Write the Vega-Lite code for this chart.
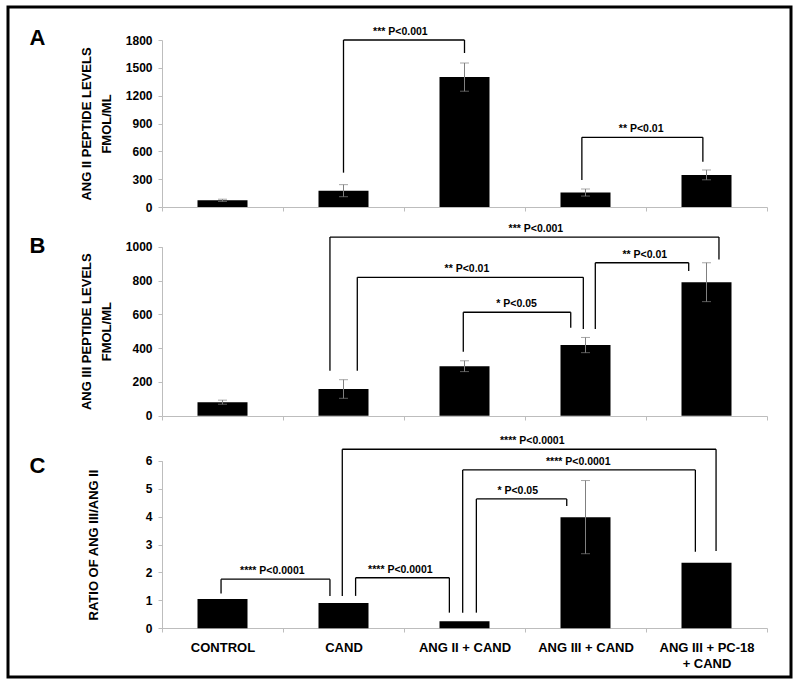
{
  "$schema": "https://vega.github.io/schema/vega-lite/v6.json",
  "width": 783,
  "height": 670,
  "autosize": "none",
  "padding": {"left": 8, "top": 7, "right": 9, "bottom": 11},
  "background": "white",
  "config": {
    "view": {"stroke": "#000000", "strokeWidth": 3},
    "font": "Liberation Sans",
    "axis": {"grid": false, "domainColor": "#bdbdbd", "tickColor": "#bdbdbd", "tickSize": 4, "labelColor": "#000000", "labelFont": "Liberation Sans", "labelFontWeight": "bold", "titleColor": "#000000", "titleFont": "Liberation Sans", "titleFontWeight": "bold"}
  },
  "datasets": {
    "bars": [
      {"panel": "A", "group": "CONTROL", "value": 72, "err": 12},
      {"panel": "A", "group": "CAND", "value": 176, "err": 65},
      {"panel": "A", "group": "ANG II + CAND", "value": 1400, "err": 152},
      {"panel": "A", "group": "ANG III + CAND", "value": 156, "err": 38},
      {"panel": "A", "group": "ANG III + PC-18 + CAND", "value": 346, "err": 53},
      {"panel": "B", "group": "CONTROL", "value": 80, "err": 12},
      {"panel": "B", "group": "CAND", "value": 158, "err": 55},
      {"panel": "B", "group": "ANG II + CAND", "value": 293, "err": 32},
      {"panel": "B", "group": "ANG III + CAND", "value": 418, "err": 45},
      {"panel": "B", "group": "ANG III + PC-18 + CAND", "value": 790, "err": 115},
      {"panel": "C", "group": "CONTROL", "value": 1.05, "err": null},
      {"panel": "C", "group": "CAND", "value": 0.91, "err": null},
      {"panel": "C", "group": "ANG II + CAND", "value": 0.25, "err": null},
      {"panel": "C", "group": "ANG III + CAND", "value": 3.98, "err": 1.31},
      {"panel": "C", "group": "ANG III + PC-18 + CAND", "value": 2.35, "err": null}
    ],
    "brackets": [
      {"panel": "A", "x1": 1.5, "x2": 2.5, "top": 1800, "b1": 370, "b2": 1660, "tx": 1.97, "label": "*** P<0.001"},
      {"panel": "A", "x1": 3.47, "x2": 4.47, "top": 751, "b1": 291, "b2": 488, "tx": 3.96, "label": "** P<0.01"},
      {"panel": "B", "x1": 1.388, "x2": 4.603, "top": 1057, "b1": 266, "b2": 925, "tx": 3.09, "label": "*** P<0.001"},
      {"panel": "B", "x1": 1.614, "x2": 3.482, "top": 819, "b1": 266, "b2": 513, "tx": 2.52, "label": "** P<0.01"},
      {"panel": "B", "x1": 2.49, "x2": 3.378, "top": 612, "b1": 379, "b2": 521, "tx": 2.93, "label": "* P<0.05"},
      {"panel": "B", "x1": 3.581, "x2": 4.353, "top": 905, "b1": 513, "b2": 856, "tx": 3.99, "label": "** P<0.01"},
      {"panel": "C", "x1": 0.488, "x2": 1.388, "top": 1.76, "b1": 1.25, "b2": 1.16, "tx": 0.912, "label": "**** P<0.0001"},
      {"panel": "C", "x1": 1.49, "x2": 4.579, "top": 6.41, "b1": 1.16, "b2": 2.77, "tx": 3.06, "label": "**** P<0.0001"},
      {"panel": "C", "x1": 1.6, "x2": 2.375, "top": 1.81, "b1": 1.16, "b2": 0.56, "tx": 1.97, "label": "**** P<0.0001"},
      {"panel": "C", "x1": 2.485, "x2": 4.408, "top": 5.67, "b1": 0.56, "b2": 2.74, "tx": 3.44, "label": "**** P<0.0001"},
      {"panel": "C", "x1": 2.598, "x2": 3.345, "top": 4.63, "b1": 0.56, "b2": 4.38, "tx": 2.94, "label": "* P<0.05"}
    ],
    "letters": [
      {"panel": "A", "letter": "A", "x": -1.03, "y": 1746},
      {"panel": "B", "letter": "B", "x": -1.03, "y": 961},
      {"panel": "C", "letter": "C", "x": -1.03, "y": 5.56}
    ]
  },
  "layer": [
    {
      "layer": [
        {
          "data": {"name": "bars"},
          "transform": [{"filter": "datum.panel == 'A'"}],
          "layer": [
            {
              "mark": {"type": "bar", "width": 50, "color": "#000000"},
              "encoding": {
                "x": {"field": "group", "type": "nominal", "scale": {"domain": ["CONTROL", "CAND", "ANG II + CAND", "ANG III + CAND", "ANG III + PC-18 + CAND"], "range": [154, 759], "paddingInner": 0, "paddingOuter": 0},
                  "axis": {"orient": "bottom", "offset": -470, "labels": false, "title": null, "tickBand": "extent"}},
                "y": {"field": "value", "type": "quantitative", "title": ["ANG II PEPTIDE LEVELS", "FMOL/ML"], "scale": {"domain": [0, 1800], "range": [200, 33], "nice": false},
                  "axis": {"orient": "left", "offset": -154, "values": [0, 300, 600, 900, 1200, 1500, 1800], "format": "d", "labelFontSize": 12, "labelPadding": 6, "titleFontSize": 13, "titleLineHeight": 20, "titlePadding": 12}}
              }
            },
            {
              "transform": [{"filter": "datum.err != null"}],
              "mark": {"type": "errorbar", "ticks": {"size": 9}, "color": "#808080"},
              "encoding": {
                "x": {"field": "group", "type": "nominal", "title": null},
                "y": {"field": "value", "type": "quantitative", "title": ["ANG II PEPTIDE LEVELS", "FMOL/ML"]},
                "yError": {"field": "err"}
              }
            }
          ]
        },
        {
          "data": {"name": "brackets"},
          "transform": [{"filter": "datum.panel == 'A'"}],
          "layer": [
            {"mark": {"type": "rule", "color": "#000000", "strokeWidth": 1.3},
             "encoding": {"x": {"field": "x1", "type": "quantitative", "scale": {"domain": [0, 5], "range": [154, 759], "nice": false, "zero": false}, "axis": null},
               "y": {"field": "b1", "type": "quantitative"}, "y2": {"field": "top"}}},
            {"mark": {"type": "rule", "color": "#000000", "strokeWidth": 1.3},
             "encoding": {"x": {"field": "x2", "type": "quantitative", "axis": null},
               "y": {"field": "b2", "type": "quantitative"}, "y2": {"field": "top"}}},
            {"mark": {"type": "rule", "color": "#000000", "strokeWidth": 1.3},
             "encoding": {"x": {"field": "x1", "type": "quantitative", "axis": null}, "x2": {"field": "x2"},
               "y": {"field": "top", "type": "quantitative"}}},
            {"mark": {"type": "text", "fontSize": 10.5, "fontWeight": "bold", "baseline": "alphabetic", "dy": -5, "color": "#000000"},
             "encoding": {"x": {"field": "tx", "type": "quantitative", "axis": null},
               "y": {"field": "top", "type": "quantitative"}, "text": {"field": "label"}}}
          ]
        },
        {
          "data": {"name": "letters"},
          "transform": [{"filter": "datum.panel == 'A'"}],
          "mark": {"type": "text", "fontSize": 22, "fontWeight": "bold", "baseline": "alphabetic", "color": "#000000"},
          "encoding": {
            "x": {"field": "x", "type": "quantitative", "scale": {"domain": [0, 5], "range": [154, 759], "nice": false, "zero": false}, "axis": null},
            "y": {"field": "y", "type": "quantitative"},
            "text": {"field": "letter"}
          }
        }
      ],
      "resolve": {"scale": {"x": "independent"}}
    },
    {
      "layer": [
        {
          "data": {"name": "bars"},
          "transform": [{"filter": "datum.panel == 'B'"}],
          "layer": [
            {
              "mark": {"type": "bar", "width": 50, "color": "#000000"},
              "encoding": {
                "x": {"field": "group", "type": "nominal", "scale": {"domain": ["CONTROL", "CAND", "ANG II + CAND", "ANG III + CAND", "ANG III + PC-18 + CAND"], "range": [154, 759], "paddingInner": 0, "paddingOuter": 0},
                  "axis": {"orient": "bottom", "offset": -261, "labels": false, "title": null, "tickBand": "extent"}},
                "y": {"field": "value", "type": "quantitative", "title": ["ANG III PEPTIDE LEVELS", "FMOL/ML"], "scale": {"domain": [0, 1000], "range": [408.7, 239.7], "nice": false},
                  "axis": {"orient": "left", "offset": -154, "values": [0, 200, 400, 600, 800, 1000], "format": "d", "labelFontSize": 12, "labelPadding": 6, "titleFontSize": 13, "titleLineHeight": 20, "titlePadding": 12}}
              }
            },
            {
              "transform": [{"filter": "datum.err != null"}],
              "mark": {"type": "errorbar", "ticks": {"size": 9}, "color": "#808080"},
              "encoding": {
                "x": {"field": "group", "type": "nominal", "title": null},
                "y": {"field": "value", "type": "quantitative", "title": ["ANG III PEPTIDE LEVELS", "FMOL/ML"]},
                "yError": {"field": "err"}
              }
            }
          ]
        },
        {
          "data": {"name": "brackets"},
          "transform": [{"filter": "datum.panel == 'B'"}],
          "layer": [
            {"mark": {"type": "rule", "color": "#000000", "strokeWidth": 1.3},
             "encoding": {"x": {"field": "x1", "type": "quantitative", "scale": {"domain": [0, 5], "range": [154, 759], "nice": false, "zero": false}, "axis": null},
               "y": {"field": "b1", "type": "quantitative"}, "y2": {"field": "top"}}},
            {"mark": {"type": "rule", "color": "#000000", "strokeWidth": 1.3},
             "encoding": {"x": {"field": "x2", "type": "quantitative", "axis": null},
               "y": {"field": "b2", "type": "quantitative"}, "y2": {"field": "top"}}},
            {"mark": {"type": "rule", "color": "#000000", "strokeWidth": 1.3},
             "encoding": {"x": {"field": "x1", "type": "quantitative", "axis": null}, "x2": {"field": "x2"},
               "y": {"field": "top", "type": "quantitative"}}},
            {"mark": {"type": "text", "fontSize": 10.5, "fontWeight": "bold", "baseline": "alphabetic", "dy": -5, "color": "#000000"},
             "encoding": {"x": {"field": "tx", "type": "quantitative", "axis": null},
               "y": {"field": "top", "type": "quantitative"}, "text": {"field": "label"}}}
          ]
        },
        {
          "data": {"name": "letters"},
          "transform": [{"filter": "datum.panel == 'B'"}],
          "mark": {"type": "text", "fontSize": 22, "fontWeight": "bold", "baseline": "alphabetic", "color": "#000000"},
          "encoding": {
            "x": {"field": "x", "type": "quantitative", "scale": {"domain": [0, 5], "range": [154, 759], "nice": false, "zero": false}, "axis": null},
            "y": {"field": "y", "type": "quantitative"},
            "text": {"field": "letter"}
          }
        }
      ],
      "resolve": {"scale": {"x": "independent"}}
    },
    {
      "layer": [
        {
          "data": {"name": "bars"},
          "transform": [{"filter": "datum.panel == 'C'"}],
          "layer": [
            {
              "mark": {"type": "bar", "width": 50, "color": "#000000"},
              "encoding": {
                "x": {"field": "group", "type": "nominal", "scale": {"domain": ["CONTROL", "CAND", "ANG II + CAND", "ANG III + CAND", "ANG III + PC-18 + CAND"], "range": [154, 759], "paddingInner": 0, "paddingOuter": 0},
                  "axis": {"orient": "bottom", "offset": -49, "title": null, "tickBand": "extent", "labelFontSize": 13, "labelAngle": 0, "labelPadding": 9, "labelLineHeight": 16, "labelOverlap": false, "labelLimit": 300,
                    "labelExpr": "datum.value == 'ANG III + PC-18 + CAND' ? ['ANG III + PC-18', '+ CAND'] : datum.label"}},
                "y": {"field": "value", "type": "quantitative", "title": "RATIO OF ANG III/ANG II", "scale": {"domain": [0, 6], "range": [621.3, 453.7], "nice": false},
                  "axis": {"orient": "left", "offset": -154, "values": [0, 1, 2, 3, 4, 5, 6], "format": "d", "labelFontSize": 12, "labelPadding": 6, "titleFontSize": 13, "titlePadding": 45}}
              }
            },
            {
              "transform": [{"filter": "datum.err != null"}],
              "mark": {"type": "errorbar", "ticks": {"size": 9}, "color": "#808080"},
              "encoding": {
                "x": {"field": "group", "type": "nominal", "title": null},
                "y": {"field": "value", "type": "quantitative", "title": "RATIO OF ANG III/ANG II"},
                "yError": {"field": "err"}
              }
            }
          ]
        },
        {
          "data": {"name": "brackets"},
          "transform": [{"filter": "datum.panel == 'C'"}],
          "layer": [
            {"mark": {"type": "rule", "color": "#000000", "strokeWidth": 1.3},
             "encoding": {"x": {"field": "x1", "type": "quantitative", "scale": {"domain": [0, 5], "range": [154, 759], "nice": false, "zero": false}, "axis": null},
               "y": {"field": "b1", "type": "quantitative"}, "y2": {"field": "top"}}},
            {"mark": {"type": "rule", "color": "#000000", "strokeWidth": 1.3},
             "encoding": {"x": {"field": "x2", "type": "quantitative", "axis": null},
               "y": {"field": "b2", "type": "quantitative"}, "y2": {"field": "top"}}},
            {"mark": {"type": "rule", "color": "#000000", "strokeWidth": 1.3},
             "encoding": {"x": {"field": "x1", "type": "quantitative", "axis": null}, "x2": {"field": "x2"},
               "y": {"field": "top", "type": "quantitative"}}},
            {"mark": {"type": "text", "fontSize": 10.5, "fontWeight": "bold", "baseline": "alphabetic", "dy": -5, "color": "#000000"},
             "encoding": {"x": {"field": "tx", "type": "quantitative", "axis": null},
               "y": {"field": "top", "type": "quantitative"}, "text": {"field": "label"}}}
          ]
        },
        {
          "data": {"name": "letters"},
          "transform": [{"filter": "datum.panel == 'C'"}],
          "mark": {"type": "text", "fontSize": 22, "fontWeight": "bold", "baseline": "alphabetic", "color": "#000000"},
          "encoding": {
            "x": {"field": "x", "type": "quantitative", "scale": {"domain": [0, 5], "range": [154, 759], "nice": false, "zero": false}, "axis": null},
            "y": {"field": "y", "type": "quantitative"},
            "text": {"field": "letter"}
          }
        }
      ],
      "resolve": {"scale": {"x": "independent"}}
    }
  ],
  "resolve": {"scale": {"x": "independent", "y": "independent"}}
}
